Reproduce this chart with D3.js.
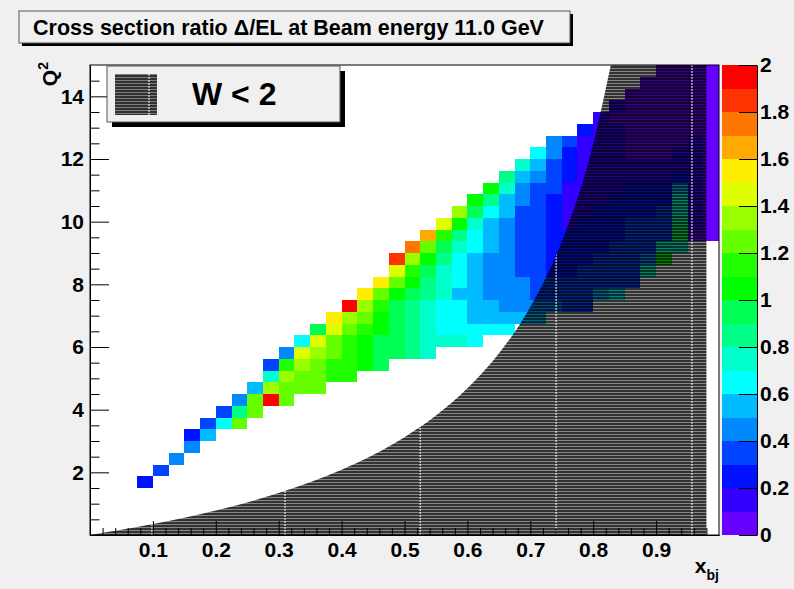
<!DOCTYPE html>
<html>
<head>
<meta charset="utf-8">
<script src="https://cdn.jsdelivr.net/npm/d3@7"></script>
<style>
  body { margin: 0; background: #f0f0f0; }
  svg { display: block; font-family: "Liberation Sans", Arial, Helvetica, sans-serif; font-weight: bold; }
</style>
</head>
<body>
<svg id="chart" width="794" height="589"></svg>
<script>
// z colour levels (ratio 0..2 in 20 bands)
const palette = ["#6600ff", "#3300ff", "#0011ff", "#0044ff", "#0088ff", "#00bbff", "#00ffff", "#00ffcc", "#00ff88", "#00ff55",
  "#00ff00", "#22ff00", "#66ff00", "#99ff00", "#ddff00", "#ffee00", "#ffaa00", "#ff7700", "#ff3300", "#ff0000"];
const zTicks = [0, 0.2, 0.4, 0.6, 0.8, 1, 1.2, 1.4, 1.6, 1.8, 2];
const xTicks = [0.1, 0.2, 0.3, 0.4, 0.5, 0.6, 0.7, 0.8, 0.9];
const yTicks = [2, 4, 6, 8, 10, 12, 14];

// histogram binning: 40 bins in x_bj [0,1], 40 bins in Q2 [0,15]
const xbjBinWidth = 0.025;
const q2BinHeight = 0.375;

// filled bins, one row per Q2 bin: Q2 bin index, first x_bj bin index, ratio values
const rowQ2Bin = [4, 5, 6, 7, 8, 9, 10, 11, 12, 13, 14, 15, 16, 17, 18, 19, 20, 21, 22, 23, 24, 25, 26, 27, 28, 29, 30, 31, 32, 33, 34, 35, 36, 37, 38, 39];
const rowFirstXBin = [3, 4, 5, 6, 6, 7, 8, 9, 10, 11, 11, 12, 13, 14, 15, 16, 17, 18, 19, 19, 20, 21, 22, 23, 24, 25, 26, 27, 28, 29, 31, 32, 33, 34, 35, 36];
const ratioRows = [
  [0.24],
  [0.36],
  [0.47],
  [0.44],
  [0.22, 0.57],
  [0.33, 0.66, 1.24],
  [0.38, 0.84, 1.27],
  [0.45, 1.22, 1.96, 1.26],
  [0.55, 1.36, 1.25, 1.22, 1.21],
  [0.74, 1.33, 1.27, 1.24, 1.17, 1.13],
  [0.34, 1.16, 1.34, 1.23, 1.14, 1.12, 1.04, 0.97],
  [0.46, 1.45, 1.35, 1.26, 1.15, 1.06, 0.96, 0.92, 0.84, 0.76],
  [0.64, 1.43, 1.24, 1.13, 1.03, 0.94, 0.91, 0.83, 0.77, 0.74, 0.71, 0.68],
  [0.93, 1.46, 1.26, 1.14, 1.02, 0.95, 0.86, 0.76, 0.67, 0.65, 0.64, 0.62, 0.61],
  [1.56, 1.37, 1.23, 1.05, 0.94, 0.85, 0.73, 0.66, 0.61, 0.58, 0.56, 0.54, 0.52, 0.51],
  [1.94, 1.33, 1.16, 0.96, 0.83, 0.74, 0.67, 0.62, 0.57, 0.52, 0.48, 0.44, 0.42, 0.41, 0.37, 0.36],
  [1.54, 1.27, 1.04, 0.96, 0.86, 0.72, 0.58, 0.53, 0.48, 0.46, 0.43, 0.38, 0.36, 0.34, 0.33, 0.52, 0.64],
  [1.58, 1.24, 1.07, 0.87, 0.77, 0.68, 0.56, 0.49, 0.47, 0.43, 0.39, 0.37, 0.35, 0.34, 0.33, 0.36, 0.38],
  [1.44, 1.13, 0.94, 0.78, 0.67, 0.54, 0.47, 0.42, 0.37, 0.33, 0.28, 0.27, 0.31, 0.33, 0.35, 0.38, 0.74],
  [1.86, 1.34, 1.02, 0.83, 0.69, 0.56, 0.48, 0.41, 0.36, 0.32, 0.27, 0.24, 0.26, 0.31, 0.34, 0.37, 0.45, 1.02],
  [1.76, 1.22, 0.93, 0.76, 0.64, 0.55, 0.46, 0.38, 0.33, 0.26, 0.24, 0.23, 0.27, 0.31, 0.34, 0.38, 0.72, 0.78],
  [1.67, 1.14, 0.82, 0.66, 0.53, 0.44, 0.37, 0.32, 0.26, 0.23, 0.22, 0.24, 0.27, 0.31, 0.33, 0.36, 0.93, 0.08, 0.06],
  [1.47, 1.03, 0.75, 0.55, 0.44, 0.36, 0.31, 0.24, 0.18, 0.22, 0.24, 0.27, 0.32, 0.34, 0.37, 0.82, 0.12, 0.07],
  [1.33, 0.92, 0.64, 0.52, 0.38, 0.33, 0.25, 0.17, 0.16, 0.21, 0.23, 0.26, 0.28, 0.34, 0.73, 0.13, 0.06],
  [1.06, 0.84, 0.56, 0.45, 0.34, 0.23, 0.16, 0.14, 0.17, 0.21, 0.24, 0.26, 0.28, 0.71, 0.11, 0.05],
  [1.02, 0.73, 0.46, 0.38, 0.32, 0.17, 0.15, 0.14, 0.18, 0.22, 0.24, 0.27, 0.54, 0.12, 0.04],
  [0.86, 0.55, 0.44, 0.34, 0.26, 0.15, 0.14, 0.13, 0.16, 0.17, 0.19, 0.21, 0.12, 0.05],
  [0.76, 0.57, 0.36, 0.25, 0.16, 0.14, 0.13, 0.12, 0.14, 0.15, 0.16, 0.11, 0.04],
  [0.66, 0.45, 0.27, 0.16, 0.13, 0.11, 0.09, 0.08, 0.07, 0.11, 0.12, 0.05],
  [0.47, 0.34, 0.17, 0.13, 0.11, 0.08, 0.07, 0.06, 0.07, 0.11, 0.04],
  [0.24, 0.16, 0.12, 0.08, 0.07, 0.06, 0.06, 0.05, 0.04],
  [0.15, 0.09, 0.07, 0.06, 0.05, 0.05, 0.04, 0.04],
  [0.12, 0.08, 0.06, 0.05, 0.05, 0.04, 0.03],
  [0.07, 0.06, 0.05, 0.04, 0.04, 0.03],
  [0.06, 0.05, 0.04, 0.04, 0.03],
  [0.05, 0.04, 0.04, 0.03]
];

// W < 2 region: boundary (x_bj, Q2) and its right edge
const w2BoundaryX = [0.0, 0.1, 0.2, 0.3, 0.4, 0.5, 0.55, 0.6, 0.65, 0.7, 0.75, 0.8, 0.828];
const w2BoundaryQ2 = [0.0, 0.35, 0.78, 1.34, 2.08, 3.12, 3.81, 4.68, 5.79, 7.28, 9.36, 12.48, 15.0];
const w2RegionXMax = 0.98;
const hatchSeamX = [0.0985, 0.31, 0.525, 0.741, 0.957];

const titleText = "Cross section ratio \u0394/EL at Beam energy 11.0 GeV";
const legendText = "W < 2";

const svg = d3.select("#chart");
const W = 794, H = 589;
const frame = { left: 90, right: 719, top: 65, bottom: 535 };

svg.append("rect").attr("width", W).attr("height", H).attr("fill", "#f0f0f0");

var x = d3.scaleLinear().domain([0, 1]).range([frame.left, frame.right]);
var y = d3.scaleLinear().domain([0, 15]).range([frame.bottom, frame.top]);
var color = d3.scaleQuantize().domain([0, 2]).range(palette);

const defs = svg.append("defs");
const pat = defs.append("pattern")
  .attr("id", "hatch")
  .attr("patternUnits", "userSpaceOnUse")
  .attr("width", 8).attr("height", 3);
pat.append("rect").attr("width", 8).attr("height", 2).attr("fill", "#000").attr("fill-opacity", 0.8);
pat.append("rect").attr("y", 2).attr("width", 8).attr("height", 1).attr("fill", "#000").attr("fill-opacity", 0.48);

// frame background
svg.append("rect")
  .attr("x", frame.left).attr("y", frame.top)
  .attr("width", frame.right - frame.left).attr("height", frame.bottom - frame.top)
  .attr("fill", "#fff");

// flatten bins
var cells = [];
ratioRows.forEach((vals, r) => {
  vals.forEach((v, k) => {
    cells.push({ xb: (rowFirstXBin[r] + k) * xbjBinWidth, q: rowQ2Bin[r] * q2BinHeight, v: v });
  });
});

svg.append("g")
  .attr("shape-rendering", "crispEdges")
  .selectAll("rect")
  .data(cells)
  .join("rect")
  .attr("x", d => x(d.xb))
  .attr("y", d => y(d.q + q2BinHeight))
  .attr("width", d => x(d.xb + xbjBinWidth) - x(d.xb))
  .attr("height", d => y(d.q) - y(d.q + q2BinHeight))
  .attr("fill", d => color(d.v));

// W < 2 hatched region
var boundary = d3.line().x(d => x(d[0])).y(d => y(d[1])).curve(d3.curveMonotoneX);
var regionPath = boundary(d3.zip(w2BoundaryX, w2BoundaryQ2)) +
  `L${x(w2RegionXMax)},${y(15)}L${x(w2RegionXMax)},${y(0)}L${x(0)},${y(0)}Z`;

defs.append("clipPath").attr("id", "w2clip").append("path").attr("d", regionPath);

svg.append("path").attr("d", regionPath).attr("fill", "url(#hatch)");

svg.append("g")
  .attr("clip-path", "url(#w2clip)")
  .selectAll("line")
  .data(hatchSeamX)
  .join("line")
  .attr("x1", d => x(d)).attr("x2", d => x(d))
  .attr("y1", y(0)).attr("y2", y(15))
  .attr("stroke", "#fff")
  .attr("stroke-width", 1)
  .attr("stroke-dasharray", "2,1");

// frame border
svg.append("rect")
  .attr("x", frame.left).attr("y", frame.top)
  .attr("width", frame.right - frame.left).attr("height", frame.bottom - frame.top)
  .attr("fill", "none").attr("stroke", "#000").attr("stroke-width", 1);

function styleAxis(g) {
  g.attr("font-family", null).attr("font-size", 21).attr("font-weight", "bold");
  g.selectAll("line").attr("stroke", "#000");
  g.selectAll("path").attr("stroke", "#000");
}

// x axis
var xMinor = d3.range(1, 50).map(k => k * 0.02).filter(v => Math.abs(v * 10 - Math.round(v * 10)) > 1e-6);
svg.append("g")
  .attr("transform", `translate(0,${frame.bottom})`)
  .call(d3.axisBottom(x).tickValues(xMinor).tickFormat("").tickSize(-7).tickSizeOuter(0))
  .call(styleAxis);
svg.append("g")
  .attr("transform", `translate(0,${frame.bottom})`)
  .call(d3.axisBottom(x).tickValues(xTicks).tickFormat(d3.format(".1f")).tickSize(-14).tickSizeOuter(0).tickPadding(7))
  .call(styleAxis);

// y axis
var yMinor = d3.range(1, 30).map(k => k * 0.5).filter(v => v % 2 !== 0);
svg.append("g")
  .attr("transform", `translate(${frame.left},0)`)
  .call(d3.axisLeft(y).tickValues(yMinor).tickFormat("").tickSize(-9.5).tickSizeOuter(0))
  .call(styleAxis);
svg.append("g")
  .attr("transform", `translate(${frame.left},0)`)
  .call(d3.axisLeft(y).tickValues(yTicks).tickSize(-19).tickSizeOuter(0).tickPadding(6))
  .call(styleAxis);

// axis titles
svg.append("text")
  .attr("transform", "translate(57,62) rotate(-90)")
  .attr("text-anchor", "end")
  .attr("font-size", 21)
  .call(t => {
    t.append("tspan").text("Q");
    t.append("tspan").attr("font-size", 14).attr("dy", -9).text("2");
  });

svg.append("text")
  .attr("x", frame.right).attr("y", 573)
  .attr("text-anchor", "end")
  .attr("font-size", 21)
  .call(t => {
    t.append("tspan").text("x");
    t.append("tspan").attr("font-size", 14).attr("dy", 7).text("bj");
  });

// colour palette
var z = d3.scaleLinear().domain([0, 2]).range([frame.bottom, frame.top]);
const pal = { left: 722, right: 757 };
svg.append("g")
  .attr("shape-rendering", "crispEdges")
  .selectAll("rect")
  .data(palette)
  .join("rect")
  .attr("x", pal.left)
  .attr("width", pal.right - pal.left)
  .attr("y", (c, i) => z((i + 1) * 0.1))
  .attr("height", (c, i) => z(i * 0.1) - z((i + 1) * 0.1))
  .attr("fill", c => c);
svg.append("g")
  .attr("transform", `translate(${pal.right},0)`)
  .call(d3.axisRight(z).tickValues(zTicks).tickFormat(d3.format("~g")).tickSize(-18).tickSizeOuter(0).tickPadding(3))
  .call(styleAxis);

// legend
svg.append("rect").attr("x", 112).attr("y", 71).attr("width", 233).attr("height", 56).attr("fill", "#000");
svg.append("rect").attr("x", 107).attr("y", 66).attr("width", 233).attr("height", 56)
  .attr("fill", "#f0f0f0").attr("stroke", "#555").attr("stroke-width", 1);
svg.append("rect").attr("x", 115).attr("y", 74).attr("width", 42).attr("height", 41).attr("fill", "url(#hatch)");
svg.append("line").attr("x1", 149).attr("x2", 149).attr("y1", 74).attr("y2", 115)
  .attr("stroke", "#fff").attr("stroke-dasharray", "2,1");
svg.append("text").attr("x", 192).attr("y", 105).attr("font-size", 32).text(legendText);

// title
svg.append("rect").attr("x", 22).attr("y", 14).attr("width", 551).attr("height", 32).attr("fill", "#000");
svg.append("rect").attr("x", 19).attr("y", 11).attr("width", 551).attr("height", 32)
  .attr("fill", "#f0f0f0").attr("stroke", "#555").attr("stroke-width", 1);
svg.append("text").attr("x", 33).attr("y", 35).attr("font-size", 21.5).text(titleText);
</script>
</body>
</html>
